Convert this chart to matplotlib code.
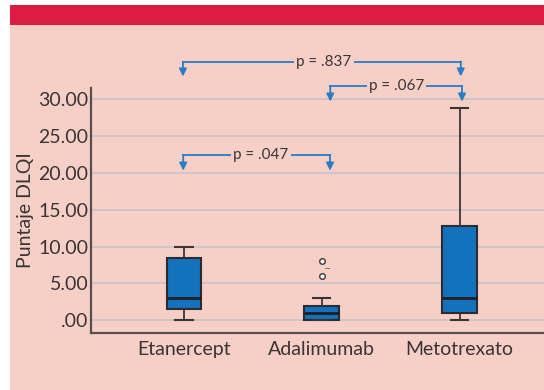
import matplotlib
matplotlib.use("Agg")
import matplotlib.pyplot as plt
from matplotlib.patches import Rectangle

plt.rcParams['font.family'] = ['Lato', 'DejaVu Sans']

# ---- data ----
categories = ["Etanercept", "Adalimumab", "Metotrexato"]
whislo = [0.0, 0.0, 0.0]
q1 = [1.5, 0.0, 1.0]
med = [3.0, 1.0, 3.0]
q3 = [8.4, 2.0, 12.8]
whishi = [10.0, 3.0, 28.8]
fliers = [[], [6.0, 8.0], []]
yticks = [0, 5, 10, 15, 20, 25, 30]
ytick_labels = [".00", "5.00", "10.00", "15.00", "20.00", "25.00", "30.00"]
ylabel = "Puntaje DLQI"

# comparisons: (left group pos, right group pos, line level, arrow tip, label, label x)
comp_left = [0.995, 2.062, 0.993]
comp_right = [2.06, 3.018, 3.009]
comp_level = [22.44, 31.8, 35.1]
comp_tip = [20.3, 29.67, 33.07]
comp_label = ["p = .047", "p = .067", "p = .837"]
comp_label_x = [1.559, 2.543, 2.017]

PINK = "#f6d0c7"
RED = "#dc1c43"
BLUE_BOX = "#1372bb"
BLUE_LINE = "#2a7cc6"
DARK = "#3a3434"

fig = plt.figure(figsize=(5.44, 3.90), dpi=100)
fig.patch.set_facecolor("white")
fig.patches.append(Rectangle((10/544, 0), 1 - 10/544, 1 - 5/390, transform=fig.transFigure,
                             facecolor=PINK, edgecolor="none", zorder=-10))
fig.patches.append(Rectangle((10/544, 1 - 25/390), 1 - 10/544, 20/390, transform=fig.transFigure,
                             facecolor=RED, edgecolor="none", zorder=-9))

ax = fig.add_axes([91/544, 1 - 332.7/390, 1 - 91/544, (332.7 - 88)/390])
ax.set_facecolor("none")
ax.set_zorder(1)

stats = []
for i in range(len(categories)):
    stats.append(dict(whislo=whislo[i], q1=q1[i], med=med[i], q3=q3[i],
                      whishi=whishi[i], fliers=fliers[i], label=categories[i]))

positions = list(range(1, len(categories) + 1))
ax.bxp(stats, positions=positions, widths=0.25, capwidths=0.125, patch_artist=True,
       boxprops=dict(facecolor=BLUE_BOX, edgecolor="#2e2b30", linewidth=1.5),
       medianprops=dict(color="#1e1e24", linewidth=2),
       whiskerprops=dict(color=DARK, linewidth=1.3),
       capprops=dict(color=DARK, linewidth=1.5),
       flierprops=dict(marker="o", markerfacecolor="white", markeredgecolor=DARK,
                       markersize=4, markeredgewidth=1.0),
       zorder=3)

ax.text(2.045, 7.0, "--", fontsize=6, color=DARK, ha="center", va="center",
        family="DejaVu Sans")

ax.set_xlim(0.326, 3.613)
ax.set_ylim(-1.68, 31.52)
ax.set_yticks(yticks)
ax.set_yticklabels(ytick_labels)
ax.set_xticks(positions)
ax.set_xticklabels(categories)
ax.tick_params(axis="both", length=0, labelsize=14, colors=DARK)
ax.tick_params(axis="y", pad=2)
ax.tick_params(axis="x", pad=6)
ax.set_ylabel(ylabel, fontsize=14, color=DARK, labelpad=3)

ax.yaxis.grid(True, color="#c8c2c8", linewidth=1.2)
ax.set_axisbelow(True)
for s in ["top", "right"]:
    ax.spines[s].set_visible(False)
for s in ["left", "bottom"]:
    ax.spines[s].set_color("#5a4f50")
    ax.spines[s].set_linewidth(1.6)

for xl, xr, lvl, tip, lab, lx in zip(comp_left, comp_right, comp_level, comp_tip,
                                      comp_label, comp_label_x):
    ax.plot([xl, xr], [lvl, lvl], color=BLUE_LINE, linewidth=1.3, clip_on=False, zorder=4)
    for xx in (xl, xr):
        ax.annotate("", xy=(xx, tip), xytext=(xx, lvl), annotation_clip=False,
                    arrowprops=dict(arrowstyle="-|>,head_length=0.45,head_width=0.22",
                                    color=BLUE_LINE, linewidth=1.3, shrinkA=0, shrinkB=0),
                    zorder=4)
    ax.text(lx, lvl, lab, fontsize=11, color=DARK, ha="center", va="center", zorder=5,
            bbox=dict(facecolor=PINK, edgecolor="none", pad=1.5), clip_on=False)

fig.savefig("out.png", dpi=100)
